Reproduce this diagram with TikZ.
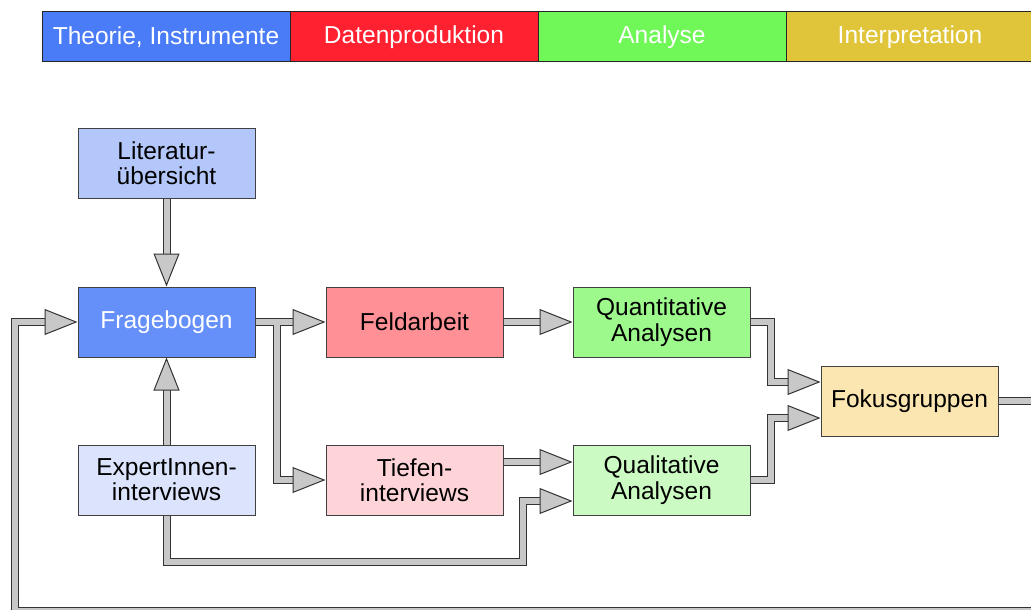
\documentclass[tikz,border=0pt]{standalone}
\usepackage{fontspec}
\setmainfont{Liberation Sans}
\usetikzlibrary{arrows.meta,calc}
\definecolor{hdblue}{HTML}{4A7CF7}
\definecolor{hdred}{HTML}{FF2030}
\definecolor{hdgreen}{HTML}{70F758}
\definecolor{hdgold}{HTML}{E0C43A}
\definecolor{litblue}{HTML}{B4C7FA}
\definecolor{frageblue}{HTML}{6690F9}
\definecolor{expblue}{HTML}{DBE3FD}
\definecolor{feldred}{HTML}{FF9095}
\definecolor{tiefred}{HTML}{FFD4D8}
\definecolor{quantgreen}{HTML}{9EF98D}
\definecolor{qualgreen}{HTML}{CBFBC3}
\definecolor{fokusgold}{HTML}{FBE5B1}
\definecolor{flowgray}{HTML}{C8C8C8}
\tikzset{
  phase/.style={draw=black!85,line width=0.75pt,minimum width=186pt,minimum height=37.5pt,
    text=white,font=\fontsize{18.4}{19}\selectfont,inner sep=0pt},
  stepbox/.style={draw=black!75,line width=0.75pt,minimum width=132.75pt,minimum height=52.5pt,
    align=center,font=\fontsize{18.4}{19}\selectfont,inner sep=0pt},
  flow/.style={draw=black!80,line width=0.75pt,double=flowgray,double distance=4.5pt,
    line join=miter,-{Triangle[length=24.75pt,width=19.5pt,fill=flowgray]}},
  flowplain/.style={draw=black!80,line width=0.75pt,double=flowgray,double distance=4.5pt,
    line join=miter}
}
\begin{document}
\begin{tikzpicture}[x=0.75pt,y=-0.75pt]
  \useasboundingbox (0,0) rectangle (1031,610);
  \clip (0,0) rectangle (1031,610);
  \node[phase,fill=hdblue] (theorie) at (166,37) {Theorie, Instrumente};
  \node[phase,fill=hdred] (daten) at (414,37) {Datenproduktion};
  \node[phase,fill=hdgreen] (analyse) at (662,37) {Analyse};
  \node[phase,fill=hdgold] (interp) at (910,37) {Interpretation};

  \node[stepbox,fill=litblue] (lit) at (166.5,163) {Literatur-\\übersicht};
  \node[stepbox,fill=frageblue,text=white] (frage) at (166.5,322) {Fragebogen};
  \node[stepbox,fill=expblue] (expert) at (166.5,480) {ExpertInnen-\\interviews};
  \node[stepbox,fill=feldred] (feld) at (414.5,322) {Feldarbeit};
  \node[stepbox,fill=tiefred] (tiefen) at (414.5,480) {Tiefen-\\interviews};
  \node[stepbox,fill=quantgreen] (quant) at (661.5,322) {Quantitative\\Analysen};
  \node[stepbox,fill=qualgreen] (qual) at (661.5,480) {Qualitative\\Analysen};
  \node[stepbox,fill=fokusgold] (fokus) at (909.5,401) {Fokusgruppen};

  \draw[flow] (lit.south) -- (frage.north);
  \draw[flow] (expert.north) -- (frage.south);
  \draw[flow] (frage.east) -- ($(feld.west)+(-30,0)$)
    (frage.east) -- ++(21,0) |- (tiefen.west);
  \draw[flow] ($(feld.west)+(-40,0)$) -- (feld.west);
  \draw[flow] (feld.east) -- (quant.west);
  \draw[flow] ($(tiefen.east)+(0,-18)$) -- ($(qual.west)+(0,-18)$);
  \draw[flow] (expert.south) |- (523,562) |- ($(qual.west)+(0,21)$);
  \draw[flow] (quant.east) -- ++(20,0) |- ($(fokus.west)+(0,-19)$);
  \draw[flow] (qual.east) -- ++(20,0) |- ($(fokus.west)+(0,17)$);
  \draw[flow] (fokus.east) -- (1060,401) -- (1060,611) -- (15,611) |- (frage.west);
\end{tikzpicture}
\end{document}
